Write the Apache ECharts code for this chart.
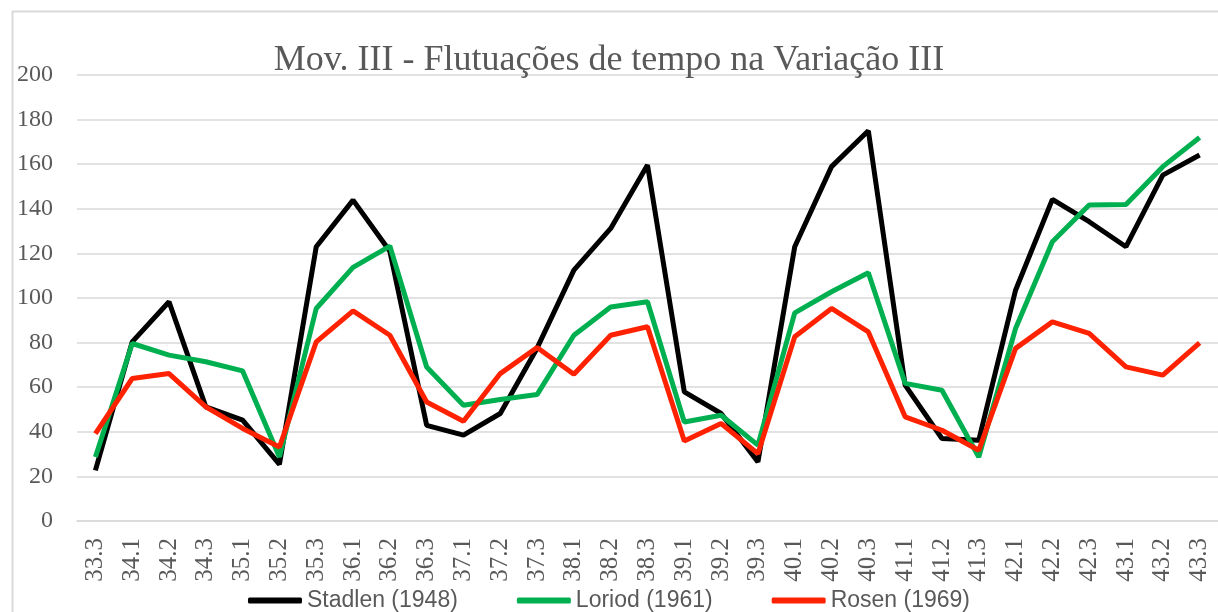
<!DOCTYPE html>
<html>
<head>
<meta charset="utf-8">
<script src="https://cdn.jsdelivr.net/npm/echarts@6/dist/echarts.min.js"></script>
<style>
  html, body { margin: 0; padding: 0; background: #fff; }
  #main { width: 1218px; height: 612px; }
</style>
</head>
<body>
<div id="main"></div>
<script>
const categories = ['33.3', '34.1', '34.2', '34.3', '35.1', '35.2', '35.3', '36.1', '36.2', '36.3',
  '37.1', '37.2', '37.3', '38.1', '38.2', '38.3', '39.1', '39.2', '39.3', '40.1',
  '40.2', '40.3', '41.1', '41.2', '41.3', '42.1', '42.2', '42.3', '43.1', '43.2', '43.3']

const stadlen = [22.7, 80.3, 98.3, 51.2, 45.2, 25.4, 123, 143.9, 121, 42.9,
  38.5, 48.2, 77.5, 112.5, 131.2, 159.6, 57.9, 48.2, 26.5, 123,
  158.9, 175, 60.9, 37, 36.2, 103.5, 144.2, 134.2, 123, 155.1, 164.1]

const loriod = [28.7, 79.6, 74.4, 71.4, 67.3, 28.7, 95.3, 113.7, 123.3, 69.1,
  51.9, 54.5, 56.7, 83.3, 96, 98.3, 44.4, 47.4, 34, 93.3,
  102.8, 111.3, 61.7, 58.6, 28.7, 86.3, 125.2, 141.7, 141.9, 158.9, 172]

const rosen = [39.2, 63.9, 66.1, 51.2, 41.5, 33.2, 80.3, 94.2, 83.3, 53.4,
  44.7, 66.1, 77.8, 65.8, 83.3, 87.1, 35.9, 43.7, 30.2, 82.6,
  95.3, 84.8, 46.7, 40.7, 31.7, 77.4, 89.3, 84.1, 69.1, 65.4, 79.9]

const seriesNames = ['Stadlen (1948)', 'Loriod (1961)', 'Rosen (1969)']
const seriesColors = ['#000000', '#00B050', '#FF2200']

const serif = "'Liberation Serif', 'DejaVu Serif', serif"
const textGray = '#595959'

const chart = echarts.init(document.getElementById('main'))

const series = [stadlen, loriod, rosen].map((data, i) => ({
  name: seriesNames[i],
  type: 'line',
  data: data,
  symbol: 'none',
  lineStyle: { color: seriesColors[i], width: 5 },
  itemStyle: { color: seriesColors[i] }
}))

chart.setOption({
  animation: false,
  backgroundColor: '#fff',
  title: {
    text: 'Mov. III - Flutuações de tempo na Variação III',
    left: 'center',
    top: 38,
    textStyle: {
      fontFamily: serif,
      fontWeight: 'normal',
      fontSize: 36,
      color: textGray
    }
  },
  graphic: [{
    type: 'rect',
    left: 10,
    top: 9,
    shape: { width: 1240, height: 640 },
    style: { fill: 'none', stroke: '#d9d9d9', lineWidth: 2 },
    silent: true
  }],
  legend: {
    data: seriesNames,
    top: 584,
    left: 'center',
    icon: 'roundRect',
    itemWidth: 54,
    itemHeight: 6,
    itemGap: 59,
    textStyle: {
      fontFamily: "'Liberation Sans', sans-serif",
      fontSize: 23,
      color: textGray
    }
  },
  grid: {
    left: 77,
    right: 0,
    top: 75,
    bottom: 91,
    containLabel: false
  },
  xAxis: {
    type: 'category',
    data: categories,
    boundaryGap: true,
    axisLine: { show: true, lineStyle: { color: '#d9d9d9', width: 1.5 } },
    axisTick: { show: false },
    axisLabel: {
      rotate: 90,
      margin: 17,
      interval: 0,
      fontFamily: serif,
      fontSize: 25,
      color: textGray
    }
  },
  yAxis: {
    type: 'value',
    min: 0,
    max: 200,
    interval: 20,
    axisLine: { show: false },
    axisTick: { show: false },
    splitLine: { lineStyle: { color: '#d9d9d9', width: 1.5 } },
    axisLabel: {
      margin: 24,
      fontFamily: serif,
      fontSize: 24,
      color: textGray
    }
  },
  series: series
})
</script>
</body>
</html>
